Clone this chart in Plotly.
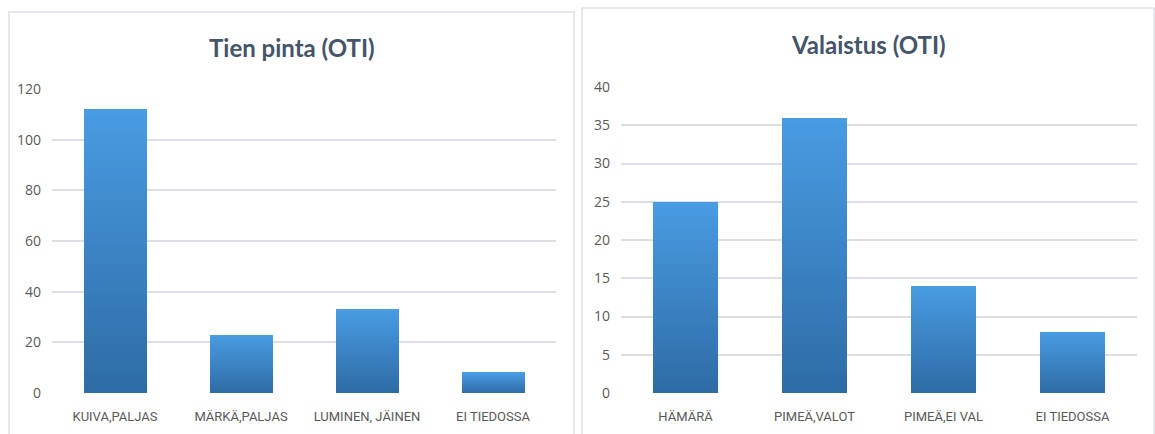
import plotly.graph_objects as go

# ---- data ----
tien_categories = ["KUIVA,PALJAS", "MÄRKÄ,PALJAS", "LUMINEN, JÄINEN", "EI TIEDOSSA"]
tien_values = [112, 23, 33, 8]
tien_title = "Tien pinta (OTI)"
tien_ticks = [0, 20, 40, 60, 80, 100, 120]

val_categories = ["HÄMÄRÄ", "PIMEÄ,VALOT", "PIMEÄ,EI VAL", "EI TIEDOSSA"]
val_values = [25, 36, 14, 8]
val_title = "Valaistus (OTI)"
val_ticks = [0, 5, 10, 15, 20, 25, 30, 35, 40]

W, H = 1155, 434
N_SEG = 40  # slices used to render the vertical gradient of each bar
dark = (46, 108, 166)
light = (73, 155, 226)


def seg_color(k):
    t = k / (N_SEG - 1)
    c = [round(dark[i] + (light[i] - dark[i]) * t) for i in range(3)]
    return f"rgb({c[0]},{c[1]},{c[2]})"


fig = go.Figure()

for cats, vals, xa, ya in [(tien_categories, tien_values, "x", "y"),
                           (val_categories, val_values, "x2", "y2")]:
    for k in range(N_SEG):
        fig.add_trace(go.Bar(
            x=cats, y=[v / N_SEG for v in vals],
            marker=dict(color=seg_color(k), line=dict(width=0)),
            width=0.5, xaxis=xa, yaxis=ya,
            showlegend=False, hoverinfo="skip",
        ))

grid_col = "#DCDFE4"
tick_font = dict(family="Open Sans, sans-serif", size=14, color="#595959")
cat_font = dict(family="Roboto, sans-serif", size=13, color="#595959")

common_x = dict(type="category", showgrid=False, zeroline=False, showline=False,
                ticks="", tickfont=cat_font, ticklabelstandoff=14, fixedrange=True,
                automargin=False)
common_y = dict(showgrid=True, gridcolor=grid_col, gridwidth=1.5, zeroline=False,
                showline=False, ticks="", tickfont=tick_font, ticklabelstandoff=10,
                fixedrange=True, automargin=False)

fig.update_layout(
    template="none",
    width=W, height=H,
    margin=dict(l=0, r=0, t=0, b=0, autoexpand=False),
    paper_bgcolor="white", plot_bgcolor="white",
    barmode="stack", bargap=0.5,
    xaxis=dict(domain=[52 / W, 556 / W], anchor="y", **common_x),
    yaxis=dict(domain=[1 - 393 / H, 1 - 89 / H], range=[0, 120], tickvals=tien_ticks,
               anchor="x", **common_y),
    xaxis2=dict(domain=[621 / W, 1137 / W], anchor="y2", **common_x),
    yaxis2=dict(domain=[1 - 393 / H, 1 - 87 / H], range=[0, 40], tickvals=val_ticks,
                anchor="x2", **common_y),
    shapes=[
        dict(type="rect", xref="paper", yref="paper",
             x0=9 / W, x1=574 / W, y0=-0.05, y1=1 - 12 / H,
             line=dict(color="#DDE1E6", width=1.5), layer="below"),
        dict(type="rect", xref="paper", yref="paper",
             x0=582 / W, x1=1154 / W, y0=-0.05, y1=1 - 8 / H,
             line=dict(color="#DDE1E6", width=1.5), layer="below"),
    ],
    annotations=[
        dict(text=f"<b>{tien_title}</b>", xref="paper", yref="paper",
             x=292 / W, y=1 - 47 / H, showarrow=False, xanchor="center", yanchor="middle",
             font=dict(family="Lato, sans-serif", size=24, color="#44546A")),
        dict(text=f"<b>{val_title}</b>", xref="paper", yref="paper",
             x=868 / W, y=1 - 44 / H, showarrow=False, xanchor="center", yanchor="middle",
             font=dict(family="Lato, sans-serif", size=24, color="#44546A")),
    ],
)

fig.write_html("out.html")
